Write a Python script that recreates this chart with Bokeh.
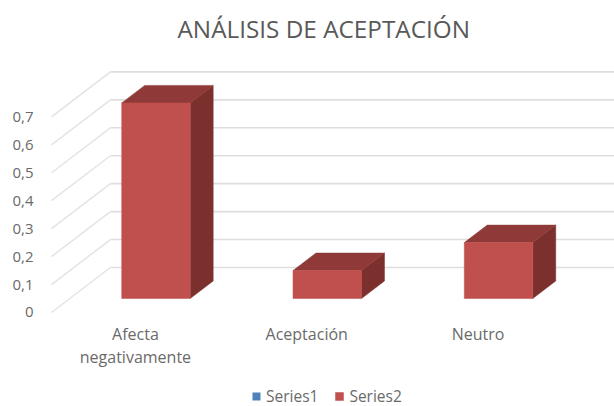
from bokeh.plotting import figure
from bokeh.models import Range1d, LinearAxis, FixedTicker, Legend, LegendItem
from bokeh.core.properties import value
from bokeh.embed import file_html
from bokeh.resources import INLINE

# ---- data ----
categories = ["Afecta\nnegativamente", "Aceptación", "Neutro"]
series1 = [0.0, 0.0, 0.0]
series2 = [0.7, 0.1, 0.2]
y_ticks = [0, 0.1, 0.2, 0.3, 0.4, 0.5, 0.6, 0.7]
y_tick_labels = ["0", "0,1", "0,2", "0,3", "0,4", "0,5", "0,6", "0,7"]
title_text = "ANÁLISIS DE ACEPTACIÓN"

# ---- pseudo-3D layout, in data units ----
BAR_W = 0.40          # bar width, in category steps
DX, DY = 0.134, 0.0627   # depth of a bar
FLOOR_DY = 0.05       # axis plane sits below the bar fronts
WALL_X0, WALL_DY = -0.266, 0.111   # back wall
PLANE_X0 = -0.61
X_MIN, X_MAX = -0.6567, 2.677
Y_MIN, Y_MAX = -0.3865, 0.8876
LABEL_DX = 0.12
LABEL_Y = -0.0865

FONT = "Open Sans"
TEXT = "#6a6a6a"
FRONT, TOP, SIDE = "#C0504D", "#8F3A38", "#7C302E"
BLUE = "#4F81BD"

p = figure(width=614, height=406, output_backend="svg", toolbar_location=None,
           x_range=Range1d(X_MIN, X_MAX), y_range=Range1d(Y_MIN, Y_MAX),
           x_axis_location=None, y_axis_location=None,
           min_border_left=43, min_border_right=0, min_border_top=50, min_border_bottom=0,
           background_fill_color="white", border_fill_color="white", outline_line_color=None)
p.grid.visible = False

# ---- title ----
p.title.text = title_text
p.title.align = "left"
p.title.text_font = FONT
p.title.text_font_size = "24.3px"
p.title.text_font_style = "normal"
p.title.text_color = "#595959"
p.title.offset = 134
p.title.standoff = 12

# ---- walls: gridlines ----
p.multi_line(xs=[[PLANE_X0, WALL_X0] for _ in y_ticks],
             ys=[[v - FLOOR_DY, v + WALL_DY] for v in y_ticks],
             line_color="#E4E4E4", line_width=1.5)
p.multi_line(xs=[[WALL_X0, X_MAX] for _ in y_ticks],
             ys=[[v + WALL_DY, v + WALL_DY] for v in y_ticks],
             line_color="#DEDEDE", line_width=1.6)

# ---- bars ----
idx = list(range(len(categories)))
left = [i - BAR_W / 2 for i in idx]
right = [i + BAR_W / 2 for i in idx]

zero = [0.0 for _ in idx]
r1 = p.quad(left=left, right=right, bottom=zero, top=series1, fill_color=BLUE, line_color=None)

p.patches(xs=[[r, r + DX, r + DX, r] for r in right],
          ys=[[0, DY, v + DY, v] for v in series2],
          fill_color=SIDE, line_color=SIDE, line_width=0.5)
p.patches(xs=[[l, r, r + DX, l + DX] for l, r in zip(left, right)],
          ys=[[v, v, v + DY, v + DY] for v in series2],
          fill_color=TOP, line_color=TOP, line_width=0.5)
r2 = p.quad(left=left, right=right, bottom=zero, top=series2, fill_color=FRONT, line_color=FRONT, line_width=0.5)

# ---- category labels ----
p.text(x=[i - LABEL_DX for i in idx], y=[LABEL_Y for _ in idx], text=categories,
       text_align="center", text_baseline="top", text_font=value(FONT),
       text_font_size="16px", text_color=TEXT, text_line_height=1.04)

# ---- value axis ----
p.extra_y_ranges = {"plane": Range1d(Y_MIN + FLOOR_DY, Y_MAX + FLOOR_DY)}
ya = LinearAxis(y_range_name="plane", ticker=FixedTicker(ticks=y_ticks),
                major_label_overrides=dict(zip(y_ticks, y_tick_labels)))
ya.axis_line_color = None
ya.major_tick_line_color = None
ya.minor_tick_line_color = None
ya.major_label_text_font = FONT
ya.major_label_text_font_size = "15px"
ya.major_label_text_color = TEXT
ya.major_label_standoff = 4
p.add_layout(ya, "left")

# ---- legend ----
legend = Legend(items=[LegendItem(label="Series1", renderers=[r1]),
                       LegendItem(label="Series2", renderers=[r2])],
                orientation="horizontal", location=(208, -1),
                border_line_color=None, background_fill_color=None,
                label_text_font=FONT, label_text_font_size="15.5px", label_text_color=TEXT,
                glyph_width=10, glyph_height=10, spacing=16, label_standoff=5,
                padding=0, margin=0)
p.add_layout(legend)

html = file_html(p, INLINE)
open("out.html", "w").write(html)
